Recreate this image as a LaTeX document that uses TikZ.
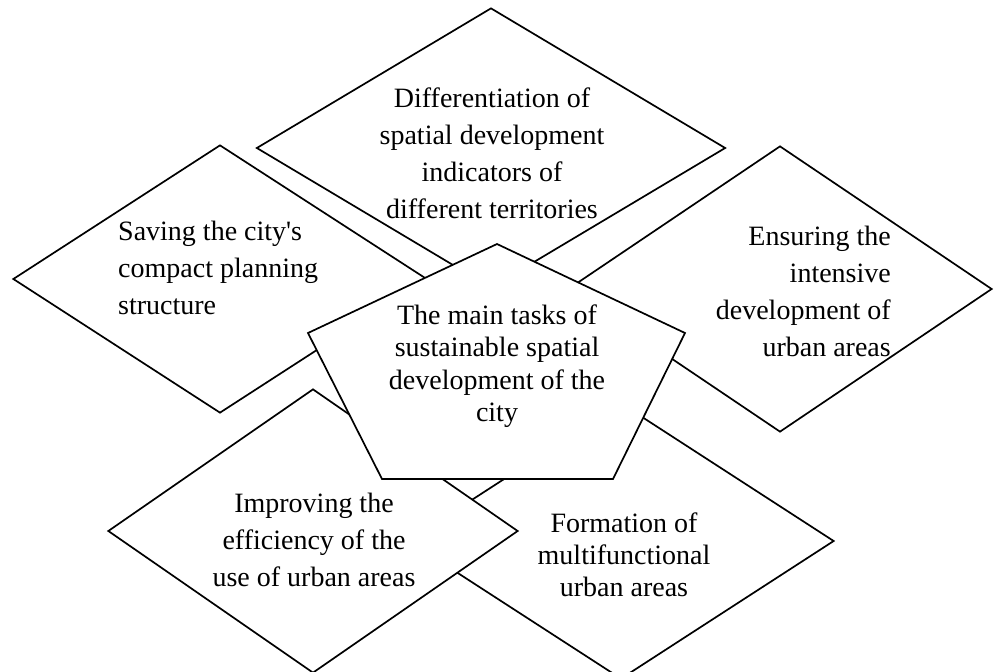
\documentclass[tikz,border=0pt]{standalone}
\usepackage{fontspec}
\setmainfont{Liberation Serif}
\usetikzlibrary{shapes.geometric}
\begin{document}
\begin{tikzpicture}[x=1pt,y=-1pt]
\tikzstyle{every node}+=[inner sep=0pt]
\tikzstyle{taskbox}=[diamond,draw=black,fill=white,line width=1.7pt]
\tikzstyle{tasktext}=[font=\fontsize{28}{37}\selectfont]
\useasboundingbox (0,0) rectangle (994,672);
% diamonds, back to front
\node [taskbox,minimum width=426pt,minimum height=276pt] (formation) at (621,541) {};
\node [taskbox,minimum width=410pt,minimum height=284pt] (improving) at (313,531) {};
\node [taskbox,minimum width=414pt,minimum height=268pt] (saving) at (220,279) {};
\node [taskbox,minimum width=469pt,minimum height=280pt] (differ) at (491,148) {};
\node [taskbox,minimum width=424pt,minimum height=286pt] (ensuring) at (780,289) {};
% central pentagon
\coordinate (ptop) at (497,244);
\coordinate (pright) at (685,333);
\coordinate (pbr) at (613,479);
\coordinate (pbl) at (382,479);
\coordinate (pleft) at (308,333);
\draw [fill=white,line width=1.7pt] (ptop) -- (pright) -- (pbr) -- (pbl) -- (pleft) -- cycle;
% texts
\node [tasktext,align=center] (differtext) at (492,153) {Differentiation of\\spatial development\\indicators of\\different territories};
\node [tasktext,align=left,anchor=west] (savingtext) at (118,268) {Saving the city\textquotesingle s\\compact planning\\structure};
\node [tasktext,align=right,anchor=east] (ensuringtext) at (891,291) {Ensuring the\\intensive\\development of\\urban areas};
\node [tasktext,align=center,font=\fontsize{28}{32.5}\selectfont] (maintext) at (497,366) {The main tasks of\\sustainable spatial\\development of the\\city};
\node [tasktext,align=center] (improvingtext) at (314,540) {Improving the\\efficiency of the\\use of urban areas};
\node [tasktext,align=center,font=\fontsize{28}{32}\selectfont] (formationtext) at (624,555) {Formation of\\multifunctional\\urban areas};
\end{tikzpicture}
\end{document}
